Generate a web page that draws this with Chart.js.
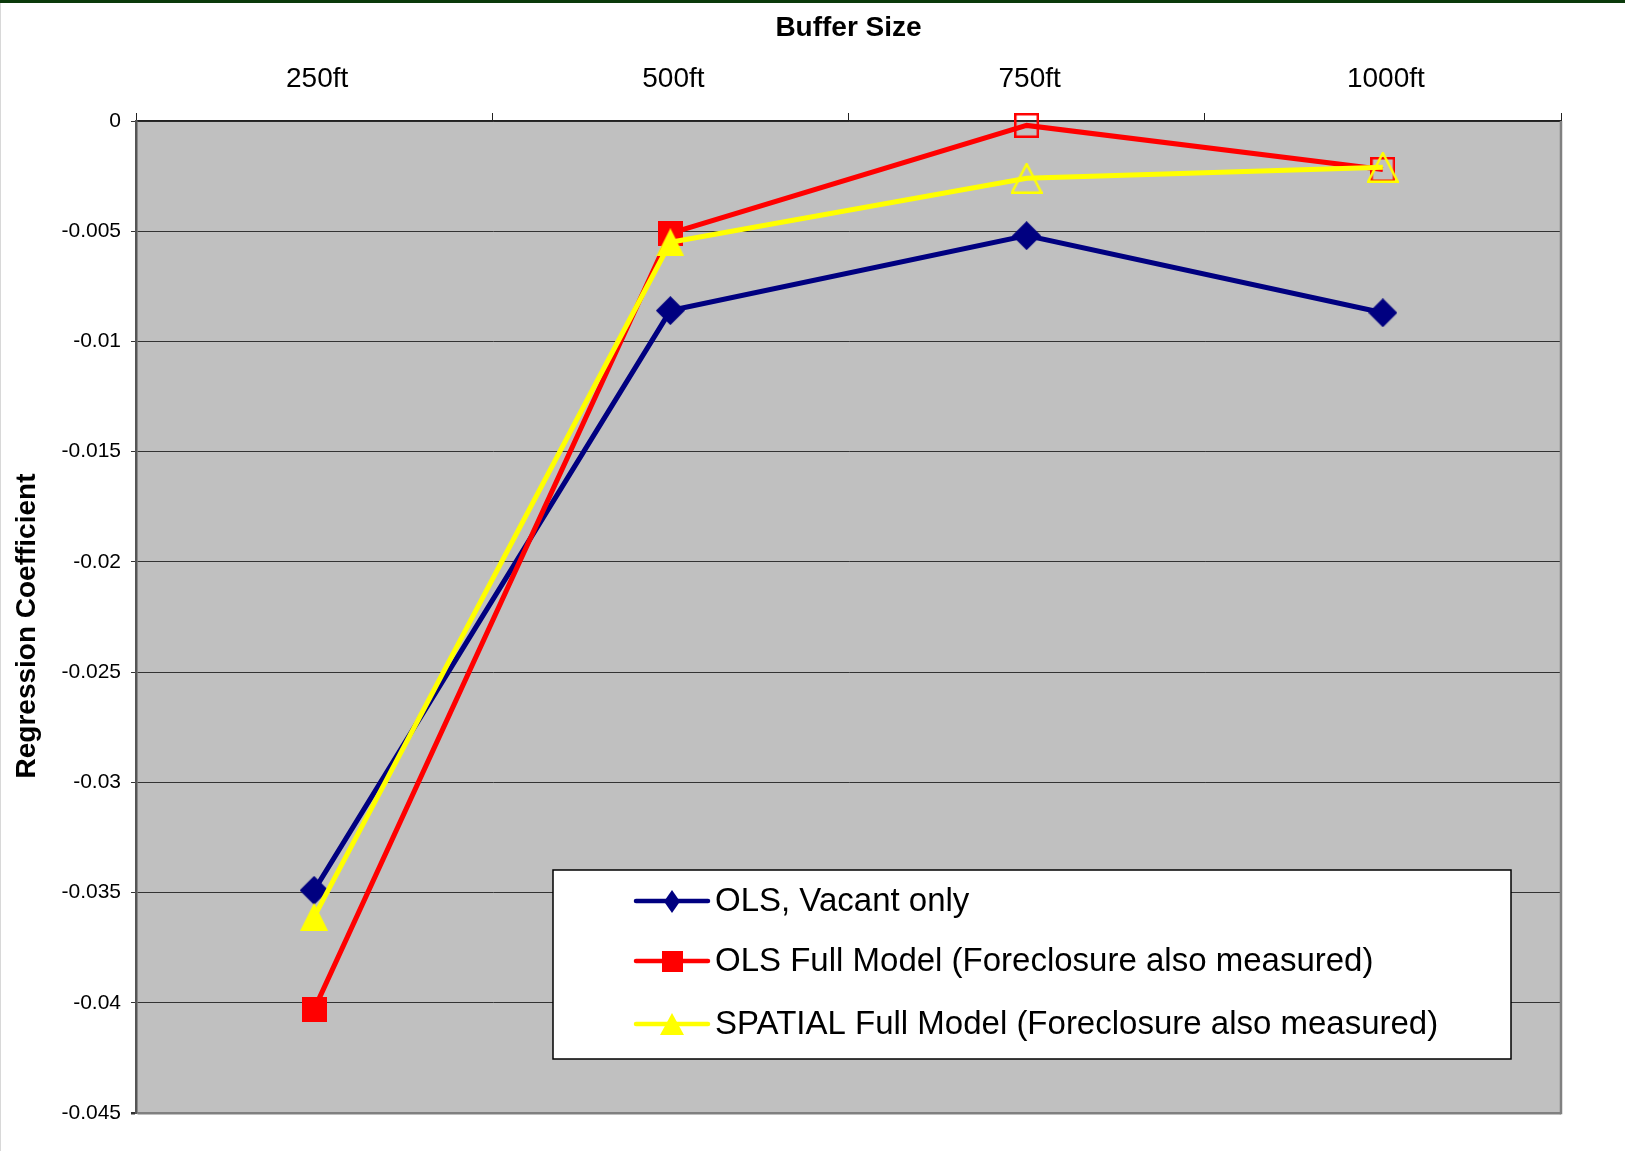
<!DOCTYPE html>
<html>
<head>
<meta charset="utf-8">
<title>Regression Coefficient by Buffer Size</title>
<script src="https://cdn.jsdelivr.net/npm/chart.js@4.4.1/dist/chart.umd.min.js"></script>
<style>
  html, body { margin: 0; padding: 0; background: #ffffff; }
  #wrap { position: relative; width: 1625px; height: 1151px; overflow: hidden; }
  #chart { position: absolute; left: 0; top: 0; }
  #topRule { position: absolute; left: 0; top: 0; width: 1625px; height: 3px; background: #0b3a0b; }
  #leftRule { position: absolute; left: 0; top: 3px; width: 1px; height: 1148px; background: #d8d8d8; }
</style>
</head>
<body>
<div id="wrap">
  <canvas id="chart" width="1625" height="1151"></canvas>
  <div id="topRule"></div>
  <div id="leftRule"></div>
</div>
<script>
// Buffer distances along the top axis
const categories = ['250ft', '500ft', '750ft', '1000ft'];

// Regression coefficients per model
const olsVacantOnly = [-0.0349, -0.0086, -0.0052, -0.0087];
const olsFullModel = [-0.0403, -0.0051, -0.0002, -0.0022];
const spatialFullModel = [-0.0361, -0.0055, -0.0026, -0.0021];

// Value axis ticks and their printed labels
const yTickValues = [0, -0.005, -0.01, -0.015, -0.02, -0.025, -0.03, -0.035, -0.04, -0.045];
const yTickLabels = ['0', '-0.005', '-0.01', '-0.015', '-0.02', '-0.025', '-0.03', '-0.035', '-0.04', '-0.045'];

const seriesLabels = [
  'OLS, Vacant only',
  'OLS Full Model (Foreclosure also measured)',
  'SPATIAL Full Model (Foreclosure also measured)'
];
const valueAxisTitle = 'Regression Coefficient';

const FONT = "'Liberation Sans', Arial, Helvetica, sans-serif";
const NAVY = '#000080';
const RED = '#ff0000';
const YELLOW = '#ffff00';

// Builds a small canvas holding one marker glyph, centred on its box
function makeMarker(shape, w, h, color, filled, lw) {
  const c = document.createElement('canvas');
  c.width = w;
  c.height = h;
  const g = c.getContext('2d');
  const i = filled ? 0 : lw / 2;
  g.beginPath();
  if (shape === 'diamond') {
    g.moveTo(w / 2, i);
    g.lineTo(w - i, h / 2);
    g.lineTo(w / 2, h - i);
    g.lineTo(i, h / 2);
  } else if (shape === 'square') {
    g.rect(i, i, w - 2 * i, h - 2 * i);
  } else {
    g.moveTo(w / 2, i);
    g.lineTo(w - i, h - i);
    g.lineTo(i, h - i);
  }
  g.closePath();
  if (filled) {
    g.fillStyle = color;
    g.fill();
  } else {
    g.strokeStyle = color;
    g.lineWidth = lw;
    g.lineJoin = 'miter';
    g.stroke();
  }
  return c;
}

const diamondFill = makeMarker('diamond', 29, 29, NAVY, true);
const squareFill = makeMarker('square', 25, 25, RED, true);
const squareOpen = makeMarker('square', 25, 25, RED, false, 2.5);
const triFill = makeMarker('triangle', 28, 28, YELLOW, true);
const triOpen = makeMarker('triangle', 32, 31, YELLOW, false, 2.5);

const legendMarkers = [
  makeMarker('diamond', 16, 23, NAVY, true),
  makeMarker('square', 21, 21, RED, true),
  makeMarker('triangle', 24, 22, YELLOW, true)
];
const seriesColors = [NAVY, RED, YELLOW];

// Grey plot area with its right-hand frame, plus the rotated value-axis title
const plotBackground = {
  id: 'plotBackground',
  beforeDraw(chart) {
    const { ctx, chartArea: a } = chart;
    ctx.save();
    ctx.fillStyle = '#c0c0c0';
    ctx.fillRect(a.left, a.top, a.right - a.left, a.bottom - a.top);
    ctx.restore();
  },
  beforeDatasetsDraw(chart) {
    const { ctx, chartArea: a } = chart;
    ctx.save();
    ctx.strokeStyle = '#808080';
    ctx.lineWidth = 2.5;
    ctx.beginPath();
    ctx.moveTo(a.right, a.top);
    ctx.lineTo(a.right, a.bottom + 1.25);
    ctx.stroke();
    ctx.restore();
  },
  afterDraw(chart) {
    const { ctx, chartArea: a } = chart;
    ctx.save();
    ctx.translate(27, (a.top + a.bottom) / 2 + 9);
    ctx.rotate(-Math.PI / 2);
    ctx.fillStyle = '#000000';
    ctx.font = 'bold 28px ' + FONT;
    ctx.textAlign = 'center';
    ctx.textBaseline = 'middle';
    ctx.fillText(valueAxisTitle, 0, 0);
    ctx.restore();
  }
};

// Boxed legend sitting inside the lower right of the plot
const boxedLegend = {
  id: 'boxedLegend',
  afterDatasetsDraw(chart) {
    const { ctx } = chart;
    const box = { x: 553, y: 870, w: 958, h: 189 };
    ctx.save();
    ctx.fillStyle = '#ffffff';
    ctx.fillRect(box.x, box.y, box.w, box.h);
    ctx.strokeStyle = '#000000';
    ctx.lineWidth = 1.5;
    ctx.strokeRect(box.x, box.y, box.w, box.h);
    const rows = [901, 961, 1024];
    chart.data.datasets.forEach((ds, i) => {
      const y = rows[i];
      ctx.strokeStyle = seriesColors[i];
      ctx.lineWidth = 4.5;
      ctx.lineCap = 'round';
      ctx.beginPath();
      ctx.moveTo(636, y);
      ctx.lineTo(708, y);
      ctx.stroke();
      const m = legendMarkers[i];
      ctx.drawImage(m, Math.round(672 - m.width / 2), Math.round(y - m.height / 2));
      ctx.fillStyle = '#000000';
      ctx.font = '33px ' + FONT;
      ctx.textBaseline = 'middle';
      ctx.textAlign = 'left';
      ctx.fillText(ds.label, 715, y + 1);
    });
    ctx.restore();
  }
};

new Chart(document.getElementById('chart'), {
  type: 'line',
  data: {
    labels: categories,
    datasets: [
      {
        label: seriesLabels[0],
        data: olsVacantOnly,
        borderColor: NAVY,
        backgroundColor: NAVY,
        borderWidth: 5,
        pointStyle: [diamondFill, diamondFill, diamondFill, diamondFill],
        pointRadius: 14,
        order: 3,
        clip: false
      },
      {
        label: seriesLabels[1],
        data: olsFullModel,
        borderColor: RED,
        backgroundColor: RED,
        borderWidth: 5,
        pointStyle: [squareFill, squareFill, squareOpen, squareOpen],
        pointRadius: 13,
        order: 2,
        clip: false
      },
      {
        label: seriesLabels[2],
        data: spatialFullModel,
        borderColor: YELLOW,
        backgroundColor: YELLOW,
        borderWidth: 5,
        pointStyle: [triFill, triFill, triOpen, triOpen],
        pointRadius: 14,
        order: 1,
        clip: false
      }
    ]
  },
  options: {
    responsive: false,
    devicePixelRatio: 1,
    animation: false,
    events: [],
    layout: { padding: { left: 0, top: 0, right: 64, bottom: 38 } },
    elements: { line: { tension: 0, fill: false } },
    plugins: {
      legend: { display: false },
      tooltip: { enabled: false },
      title: { display: false }
    },
    scales: {
      x: {
        type: 'category',
        position: 'top',
        offset: true,
        grid: {
          offset: true,
          drawOnChartArea: false,
          drawTicks: true,
          tickLength: 8,
          color: '#222222',
          lineWidth: 1
        },
        border: { display: true, color: '#222222', width: 1.5 },
        ticks: {
          color: '#000000',
          font: { family: FONT, size: 28 },
          padding: 17,
          labelOffset: 3,
          maxRotation: 0,
          autoSkip: false
        },
        title: {
          display: true,
          text: 'Buffer Size',
          color: '#000000',
          font: { family: FONT, size: 28, weight: 'bold' },
          padding: { top: 11, bottom: 0 }
        },
        afterFit(scale) { scale.height = 121; }
      },
      y: {
        type: 'linear',
        position: 'left',
        min: -0.045,
        max: 0,
        afterBuildTicks(scale) {
          scale.ticks = yTickValues.map(v => ({ value: v }));
        },
        grid: {
          drawTicks: true,
          tickLength: 5,
          color(ctx) {
            return ctx.tick && ctx.tick.value === -0.045 ? '#808080' : '#333333';
          },
          lineWidth(ctx) {
            return ctx.tick && ctx.tick.value === -0.045 ? 2.5 : 1;
          },
          tickColor: '#333333'
        },
        border: { display: true, color: '#555555', width: 2.5 },
        ticks: {
          color: '#000000',
          font: { family: FONT, size: 21 },
          padding: 10,
          callback(value) {
            const k = yTickValues.findIndex(v => Math.abs(v - value) < 1e-9);
            return k >= 0 ? yTickLabels[k] : '';
          }
        },
        title: { display: false },
        afterFit(scale) { scale.width = 136; }
      }
    }
  },
  plugins: [plotBackground, boxedLegend]
});
</script>
</body>
</html>
